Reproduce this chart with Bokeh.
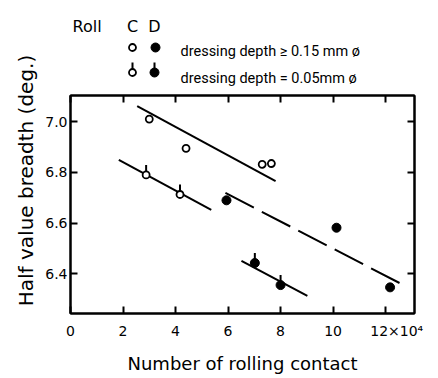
import math
from bokeh.plotting import figure
from bokeh.models import FixedTicker, Range1d, LinearAxis
from bokeh.layouts import row, column
from bokeh.core.properties import value
from bokeh.embed import file_html
from bokeh.resources import INLINE

# ---- data ----
c_thick_x = [3.0, 4.4, 7.3, 7.65]
c_thick_y = [7.01, 6.895, 6.832, 6.835]
c_thin_x = [2.88, 4.17]
c_thin_y = [6.79, 6.713]
d_thick_x = [5.94, 10.13, 12.17]
d_thick_y = [6.69, 6.582, 6.347]
d_thin_x = [7.02, 8.0]
d_thin_y = [6.443, 6.356]

fit_c_thick_x = [2.54, 7.81]
fit_c_thick_y = [7.061, 6.766]
fit_c_thin_x = [1.84, 5.36]
fit_c_thin_y = [6.849, 6.652]
fit_d_thick_x = [5.9, 12.57]
fit_d_thick_y = [6.719, 6.362]
fit_d_thin_x = [6.51, 9.02]
fit_d_thin_y = [6.451, 6.313]

x_ticks = [0, 2, 4, 6, 8, 10, 12]
x_tick_labels = ["0", "2", "4", "6", "8", "10", "\u00a0\u00a0\u00a0\u00a0\u00a012\u00d710\u2074"]
y_ticks = [6.4, 6.6, 6.8, 7.0]
y_tick_labels = ["6.4", "6.6", "6.8", "7.0"]

x_title = "Number of rolling contact"
y_title = "Half value breadth (deg.)"
legend_head = ["Roll", "C", "D"]
legend_rows = ["dressing  depth \u2265 0.15 mm \u00f8", "dressing  depth = 0.05mm \u00f8"]

FONT = "DejaVu Sans"
LEG_FONT = "Roboto"
TOTAL_H = 376
LEFT_W = 40
LEG_H = 90
W2 = 438 - LEFT_W - 4
BL, BR = 30, 20          # main plot side borders
FX0, FX1 = LEFT_W + BL, LEFT_W + W2 - BR   # frame extent on page

# ---- main plot ----
p = figure(width=W2, height=TOTAL_H - LEG_H, output_backend="svg",
           toolbar_location=None,
           x_range=Range1d(0, 13.1), y_range=Range1d(6.244, 7.103),
           x_axis_location=None, y_axis_location=None,
           min_border_left=BL, min_border_top=5, min_border_right=BR, min_border_bottom=55)
p.xgrid.visible = False
p.ygrid.visible = False
p.outline_line_color = "black"
p.outline_line_width = 2

def style_axis(ax, labels=True):
    ax.axis_line_width = 2
    ax.axis_line_color = "black"
    ax.major_tick_in = 7
    ax.major_tick_out = 0
    ax.major_tick_line_width = 2
    ax.minor_tick_line_color = None
    ax.major_label_text_font = FONT
    if labels:
        ax.major_label_text_font_size = "14px"
        ax.major_label_text_color = "black"
    else:
        ax.major_label_text_font_size = "1px"
        ax.major_label_text_color = None
        ax.major_label_standoff = 0

bx = LinearAxis(ticker=FixedTicker(ticks=x_ticks))
bx.major_label_overrides = dict(zip(x_ticks, x_tick_labels))
style_axis(bx)
bx.major_label_standoff = 9
bx.axis_label = x_title
bx.axis_label_text_font = FONT
bx.axis_label_text_font_size = "18px"
bx.axis_label_text_font_style = "normal"
bx.axis_label_text_color = "black"
bx.axis_label_standoff = 11
p.add_layout(bx, "below")

tx = LinearAxis(ticker=FixedTicker(ticks=x_ticks))
style_axis(tx, labels=False)
p.add_layout(tx, "above")

ly = LinearAxis(ticker=FixedTicker(ticks=y_ticks))
ly.major_label_overrides = dict(zip(y_ticks, y_tick_labels))
style_axis(ly)
ly.major_label_standoff = 3
p.add_layout(ly, "left")

ry = LinearAxis(ticker=FixedTicker(ticks=y_ticks))
style_axis(ry, labels=False)
p.add_layout(ry, "right")

# fit lines
p.line(fit_c_thick_x, fit_c_thick_y, line_color="black", line_width=2)
p.line(fit_c_thin_x, fit_c_thin_y, line_color="black", line_width=2)
p.line(fit_d_thick_x, fit_d_thick_y, line_color="black", line_width=2, line_dash="32 9")
p.line(fit_d_thin_x, fit_d_thin_y, line_color="black", line_width=2)

# ticks above thin-dressing points
p.ray(c_thin_x, c_thin_y, length=10, angle=math.pi / 2, length_units="screen",
      line_color="black", line_width=2)
p.ray(d_thin_x, d_thin_y, length=10, angle=math.pi / 2, length_units="screen",
      line_color="black", line_width=2)

OPEN = dict(marker="circle", size=7, fill_color="white", line_color="black", line_width=1.8)
FULL = dict(marker="circle", size=9, fill_color="black", line_color="black", line_width=1)
p.scatter(c_thick_x, c_thick_y, **OPEN)
p.scatter(c_thin_x, c_thin_y, **OPEN)
p.scatter(d_thick_x, d_thick_y, **FULL)
p.scatter(d_thin_x, d_thin_y, **FULL)

# ---- y-axis title strip (page-pixel coordinates) ----
yl = figure(width=LEFT_W, height=TOTAL_H, output_backend="svg", toolbar_location=None,
            x_range=Range1d(0, LEFT_W), y_range=Range1d(TOTAL_H, 0),
            x_axis_location=None, y_axis_location=None,
            min_border=0, outline_line_color=None)
yl.grid.visible = False
yl.text(x=[25], y=[180], text=[y_title], angle=math.pi / 2,
        text_font=value(FONT), text_font_size="20px", text_align="center",
        text_baseline="middle", text_color="black")

# ---- legend strip (page-pixel coordinates, y downward) ----
lg = figure(width=W2, height=LEG_H, output_backend="svg", toolbar_location=None,
            x_range=Range1d(FX0, FX1), y_range=Range1d(LEG_H, 0),
            x_axis_location=None, y_axis_location=None,
            min_border_left=BL, min_border_right=BR, min_border_top=0, min_border_bottom=0,
            outline_line_color=None)
lg.grid.visible = False
lg.text(x=[72], y=[26], text=[legend_head[0]], text_font=value(FONT),
        text_font_size="16px", text_align="left", text_baseline="alphabetic")
lg.text(x=[132, 154], y=[26, 26], text=legend_head[1:], text_font=value(FONT),
        text_font_size="16px", text_align="center", text_baseline="alphabetic")
lg.text(x=[180, 180], y=[51, 78], text=legend_rows, text_font=value(LEG_FONT),
        text_font_size="14.5px", text_font_style="normal", text_align="left",
        text_baseline="alphabetic")
lg.segment(x0=[132, 154], y0=[72, 72], x1=[132, 154], y1=[62, 62],
           line_color="black", line_width=2)
lg.scatter([132, 132], [47, 72], **OPEN)
lg.scatter([155, 154], [47, 72], **FULL)

layout = row(yl, column(lg, p))
open("out.html", "w").write(file_html(layout, INLINE))
